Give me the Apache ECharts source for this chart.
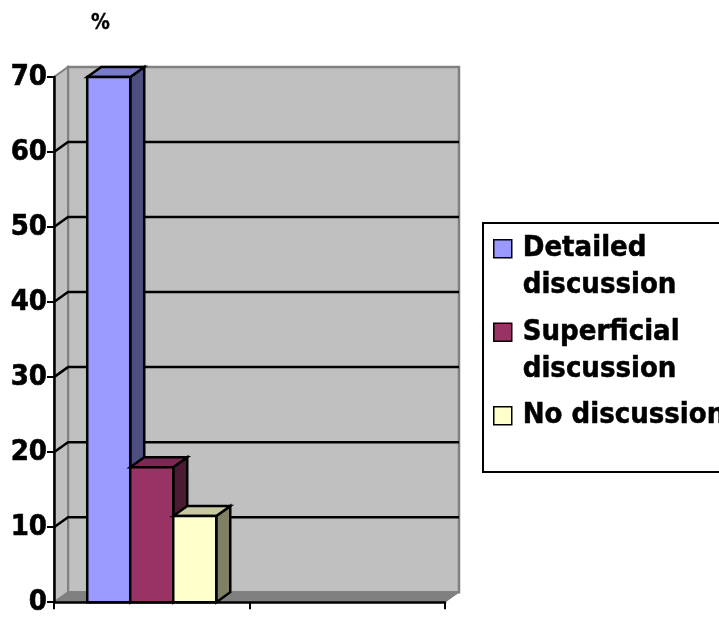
<!DOCTYPE html>
<html>
<head>
<meta charset="utf-8">
<script src="https://cdn.jsdelivr.net/npm/echarts@6/dist/echarts.min.js"></script>
<style>
  html, body { margin: 0; padding: 0; background: #ffffff; }
  #chart { width: 719px; height: 617px; }
</style>
</head>
<body>
<div id="chart"></div>
<script>
// ---- data ----
const categories = ['', ''];
const seriesNames = ['Detailed\ndiscussion', 'Superficial\ndiscussion', 'No discussion'];
const detailedValues = [70];
const superficialValues = [18];
const noDiscussionValues = [11.5];
const yTicks = [0, 10, 20, 30, 40, 50, 60, 70];
const axisUnit = '%';

// ---- styling ----
const frontColors = ['#9999ff', '#993366', '#ffffcc'];
const sideColors = ['#4d4d80', '#4d1a33', '#808066'];
const topColors = ['#7a7acc', '#7a2952', '#c8c8a2'];
const DX = 14, DY = -10;          // depth of the 3D box (pixels)
const BAR_RATIO = 0.22;           // bar width as share of a category band
const FONT = 'DejaVu Sans Condensed';
const EDGE_W = 2.5;

// Back wall, side wall, floor and the gridlines that run across them
function renderWalls(params, api) {
  const cs = params.coordSys;
  const x = cs.x, y = cs.y, w = cs.width, h = cs.height;
  const v = api.value(1);
  const p = api.coord([0, v]);
  const children = [];
  if (params.dataIndex === 0) {
    children.push({
      type: 'rect',
      shape: { x: x + DX, y: y + DY, width: w, height: h },
      style: { fill: '#c0c0c0', stroke: '#808080', lineWidth: 2.5 }
    });
    children.push({
      type: 'polygon',
      shape: { points: [[x, y + h], [x, y], [x + DX, y + DY], [x + DX, y + h + DY]] },
      style: { fill: '#c0c0c0', stroke: '#808080', lineWidth: 2 }
    });
    children.push({
      type: 'polygon',
      shape: { points: [[x, y + h], [x + DX, y + h + DY], [x + w + DX, y + h + DY], [x + w, y + h]] },
      style: { fill: '#808080', stroke: '#808080', lineWidth: 1 }
    });
  }
  if (v > yTicks[0] && v < yTicks[yTicks.length - 1]) {
    children.push({
      type: 'polyline',
      shape: { points: [[x, p[1]], [x + DX, p[1] + DY], [x + w + DX, p[1] + DY]] },
      style: { stroke: '#000000', lineWidth: EDGE_W, fill: null }
    });
  }
  return { type: 'group', children: children };
}

// 3D column: front face, right side, top
function makeBarRenderer(slot) {
  return function (params, api) {
    const cat = api.value(0);
    const val = api.value(1);
    const band = api.size([1, 0])[0];
    const bw = band * BAR_RATIO;
    const base = api.coord([cat, 0]);
    const top = api.coord([cat, val]);
    const x0 = base[0] + (slot - 1.5) * bw;
    const x1 = x0 + bw;
    const yt = top[1], yb = base[1];
    const edge = { stroke: '#000000', lineWidth: EDGE_W, lineJoin: 'miter' };
    return {
      type: 'group',
      children: [
        { type: 'polygon',
          shape: { points: [[x1, yt], [x1 + DX, yt + DY], [x1 + DX, yb + DY], [x1, yb]] },
          style: Object.assign({ fill: sideColors[slot] }, edge) },
        { type: 'polygon',
          shape: { points: [[x0, yt], [x0 + DX, yt + DY], [x1 + DX, yt + DY], [x1, yt]] },
          style: Object.assign({ fill: topColors[slot] }, edge) },
        { type: 'rect',
          shape: { x: x0, y: yt, width: bw, height: yb - yt },
          style: Object.assign({ fill: frontColors[slot] }, edge) }
      ]
    };
  };
}

const valueSets = [detailedValues, superficialValues, noDiscussionValues];
const barSeries = valueSets.map(function (vals, i) {
  return {
    type: 'custom',
    name: seriesNames[i],
    coordinateSystem: 'cartesian2d',
    clip: false,
    encode: { x: 0, y: 1 },
    itemStyle: { color: frontColors[i], borderColor: '#000000', borderWidth: 2 },
    renderItem: makeBarRenderer(i),
    data: vals.map(function (v, j) { return [j, v]; })
  };
});

// Legend marker: square sitting on the first text line, within a 2-line-tall box
const markerPath = 'path://M0,0M0,9.5L18,9.5L18,27.5L0,27.5ZM0,74';

const option = {
  animation: false,
  backgroundColor: '#ffffff',
  grid: { left: 54, right: 274, top: 77, bottom: 10.5, containLabel: false },
  legend: {
    orient: 'vertical',
    left: 483,
    top: 223,
    padding: [6.5, 0, 0, 10],
    itemGap: 8,
    itemWidth: 18,
    itemHeight: 74,
    backgroundColor: '#ffffff',
    borderColor: '#000000',
    borderWidth: 2,
    borderRadius: 0,
    // every entry takes two lines so the marker lines up with the first one
    formatter: function (name) {
      return name.indexOf('\n') < 0 ? name + '\n' : name;
    },
    textStyle: {
      fontFamily: FONT, fontWeight: 'bold', fontSize: 29, lineHeight: 37,
      color: '#000000', padding: [0, 0, 0, 6],
      textBorderColor: '#000000', textBorderWidth: 0.5
    },
    data: seriesNames.map(function (n, i) {
      return {
        name: n,
        icon: markerPath,
        itemStyle: { color: frontColors[i], borderColor: '#000000', borderWidth: 1.5 }
      };
    })
  },
  xAxis: {
    type: 'category',
    data: categories,
    boundaryGap: true,
    z: 10,
    axisLine: { show: true, lineStyle: { color: '#000000', width: 2.5 } },
    axisTick: { show: true, length: 7, lineStyle: { color: '#000000', width: 2 } },
    axisLabel: { show: false },
    splitLine: { show: false }
  },
  yAxis: {
    type: 'value',
    min: yTicks[0],
    max: yTicks[yTicks.length - 1],
    interval: yTicks[1] - yTicks[0],
    z: 10,
    name: axisUnit,
    nameLocation: 'end',
    nameGap: 53,
    nameTextStyle: {
      fontFamily: FONT, fontWeight: 'bold', fontSize: 21, color: '#000000',
      align: 'left', verticalAlign: 'middle', padding: [0, 0, 0, 37],
      textBorderColor: '#000000', textBorderWidth: 0.3
    },
    axisLine: { show: true, lineStyle: { color: '#000000', width: 2.5 } },
    axisTick: { show: true, length: 7, lineStyle: { color: '#000000', width: 2 } },
    axisLabel: {
      fontFamily: FONT, fontWeight: 'bold', fontSize: 29, color: '#000000', margin: 7,
      textBorderColor: '#000000', textBorderWidth: 0.6
    },
    splitLine: { show: false }
  },
  series: [{
    type: 'custom',
    name: 'walls',
    coordinateSystem: 'cartesian2d',
    clip: false,
    silent: true,
    encode: { x: 0, y: 1 },
    renderItem: renderWalls,
    data: yTicks.map(function (v) { return [0, v]; })
  }].concat(barSeries)
};

const chart = echarts.init(document.getElementById('chart'), null, { renderer: 'canvas' });
chart.setOption(option);
</script>
</body>
</html>
